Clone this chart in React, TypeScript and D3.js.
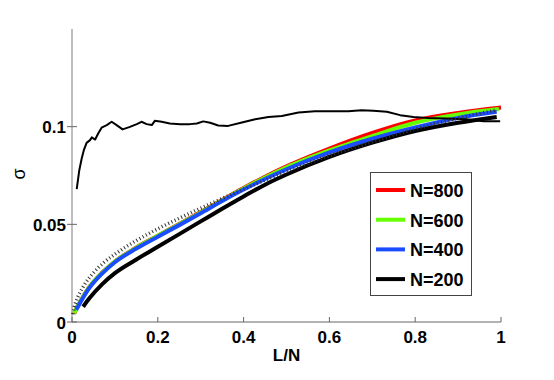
import React from 'react';
import * as d3 from 'd3';

// sigma vs L/N, four system sizes plus a theory curve and one noisy run

const xTicks = [0, 0.2, 0.4, 0.6, 0.8, 1];
const yTicks = [0, 0.05, 0.1];
const yTickLabels = ['0', '0.05', '0.1'];

const n800: [number, number][] = [
  [0.005, 0.0042], [0.01, 0.0068], [0.02, 0.0108], [0.04, 0.0178], [0.07, 0.0252], [0.1, 0.031],
  [0.15, 0.0381], [0.2, 0.0442], [0.25, 0.0502], [0.3, 0.0563], [0.35, 0.0625], [0.4, 0.0686],
  [0.45, 0.0744], [0.5, 0.0797], [0.6, 0.0888], [0.7, 0.0968], [0.8, 0.1032], [0.9, 0.107], [1.0, 0.1098],
];
const n600: [number, number][] = [
  [0.005, 0.0044], [0.01, 0.0068], [0.02, 0.0107], [0.04, 0.0177], [0.07, 0.0251], [0.1, 0.0309],
  [0.15, 0.038], [0.2, 0.0441], [0.25, 0.05], [0.3, 0.0561], [0.35, 0.0622], [0.4, 0.0683],
  [0.45, 0.074], [0.5, 0.0792], [0.6, 0.0878], [0.7, 0.0952], [0.8, 0.102], [0.9, 0.1063], [0.995, 0.109],
];
const n400: [number, number][] = [
  [0.01, 0.0062], [0.02, 0.0102], [0.04, 0.0173], [0.07, 0.0248], [0.1, 0.0306], [0.15, 0.0376],
  [0.2, 0.0437], [0.25, 0.0496], [0.3, 0.0557], [0.35, 0.062], [0.4, 0.0678], [0.45, 0.0732],
  [0.5, 0.0782], [0.6, 0.0868], [0.7, 0.0938], [0.8, 0.0996], [0.9, 0.1045], [0.99, 0.1076],
];
const n200: [number, number][] = [
  [0.026, 0.0078], [0.04, 0.012], [0.07, 0.0193], [0.1, 0.025], [0.15, 0.032], [0.2, 0.0385],
  [0.25, 0.045], [0.3, 0.0515], [0.35, 0.058], [0.4, 0.0643], [0.45, 0.0703], [0.5, 0.0755],
  [0.6, 0.0845], [0.7, 0.0918], [0.8, 0.0978], [0.9, 0.102], [0.99, 0.105],
];
const theory: [number, number][] = [
  [0.002, 0.004], [0.005, 0.0075], [0.01, 0.0108], [0.026, 0.018], [0.05, 0.0252], [0.073, 0.0302],
  [0.1, 0.0347], [0.15, 0.0417], [0.2, 0.0477], [0.25, 0.0531], [0.3, 0.0583], [0.35, 0.0632],
  [0.4, 0.068], [0.45, 0.0726], [0.5, 0.077], [0.6, 0.0852], [0.7, 0.0922], [0.8, 0.0988],
  [0.9, 0.1043], [0.99, 0.1085],
];
const noisy: [number, number][] = [
  [0.011, 0.068], [0.017, 0.0777], [0.0226, 0.0837], [0.028, 0.0883], [0.034, 0.0917], [0.042, 0.0931],
  [0.046, 0.0945], [0.054, 0.0934], [0.061, 0.0965], [0.069, 0.0995], [0.081, 0.1008], [0.0925, 0.1025],
  [0.104, 0.1008], [0.118, 0.0986], [0.135, 0.0999], [0.151, 0.1013], [0.162, 0.1025], [0.174, 0.1013],
  [0.186, 0.1008], [0.193, 0.103], [0.209, 0.1025], [0.228, 0.1016], [0.252, 0.1013], [0.275, 0.1013],
  [0.291, 0.1016], [0.306, 0.1027], [0.322, 0.102], [0.341, 0.1006], [0.364, 0.1004], [0.396, 0.1021],
  [0.427, 0.1038], [0.458, 0.105], [0.489, 0.1055], [0.528, 0.1073], [0.566, 0.1079], [0.605, 0.1079],
  [0.644, 0.1079], [0.675, 0.1084], [0.702, 0.1081], [0.734, 0.1076], [0.765, 0.1059], [0.796, 0.105],
  [0.827, 0.1045], [0.873, 0.1042], [0.92, 0.1038], [0.959, 0.1028], [0.998, 0.1028],
];

const legendItems = [
  { label: 'N=800', color: '#ff0000' },
  { label: 'N=600', color: '#66ff00' },
  { label: 'N=400', color: '#1a4dff' },
  { label: 'N=200', color: '#000000' },
];

const W = 554, H = 380;
const left = 72, right = 501, top = 29, bottom = 322;
const font = '"Liberation Sans", Arial, Helvetica, sans-serif';

export default function App() {
  const x = d3.scaleLinear().domain([0, 1]).range([left, right]);
  const y = d3.scaleLinear().domain([0, 0.15]).range([bottom, top]);
  const smooth = d3.line<[number, number]>().x(d => x(d[0])).y(d => y(d[1])).curve(d3.curveMonotoneX);
  const jagged = d3.line<[number, number]>().x(d => x(d[0])).y(d => y(d[1]));

  return (
    <svg width={W} height={H} style={{ position: 'absolute', left: 0, top: 0, background: '#fff' }}
      fontFamily={font} fontWeight="bold">
      {/* axes */}
      <line x1={left} x2={left} y1={top} y2={bottom} stroke="#a8a8a8" strokeWidth={1.5} />
      <line x1={left} x2={right} y1={bottom} y2={bottom} stroke="#666" strokeWidth={1} />
      {xTicks.map(t => (
        <g key={'x' + t}>
          <line x1={x(t)} x2={x(t)} y1={bottom} y2={bottom - 5} stroke="#666" />
          <text x={x(t)} y={343} textAnchor="middle" fontSize={17}>{t}</text>
        </g>
      ))}
      {yTicks.map((t, i) => (
        <g key={'y' + t}>
          <line x1={left - 5} x2={left + 5} y1={y(t)} y2={y(t)} stroke="#666" />
          <text x={66} y={y(t) + 6.5} textAnchor="end" fontSize={17}>{yTickLabels[i]}</text>
        </g>
      ))}
      <text x={286.5} y={361} textAnchor="middle" fontSize={17}>L/N</text>
      <text transform="translate(25,174) rotate(-90)" textAnchor="middle" fontSize={18} fontWeight="normal">σ</text>

      {/* data */}
      <path d={smooth(n800) || ''} fill="none" stroke="#ff0000" strokeWidth={4} />
      <path d={smooth(n600) || ''} fill="none" stroke="#66ff00" strokeWidth={4} />
      <path d={smooth(n400) || ''} fill="none" stroke="#1a4dff" strokeWidth={4} />
      <path d={smooth(n200) || ''} fill="none" stroke="#000" strokeWidth={4} />
      <path d={jagged(noisy) || ''} fill="none" stroke="#000" strokeWidth={2} strokeLinejoin="round" />
      <path d={smooth(theory) || ''} fill="none" stroke="#333" strokeWidth={3.5} strokeDasharray="1 2.6" />

      {/* legend */}
      <rect x={370.5} y={172.5} width={101} height={123} fill="#fff" stroke="#444" />
      {legendItems.map((d, i) => {
        const cy = 190 + i * 29.7;
        return (
          <g key={d.label}>
            <line x1={376} x2={405} y1={cy} y2={cy} stroke={d.color} strokeWidth={4} />
            <text x={410} y={cy + 7} fontSize={18}>{d.label}</text>
          </g>
        );
      })}
    </svg>
  );
}
